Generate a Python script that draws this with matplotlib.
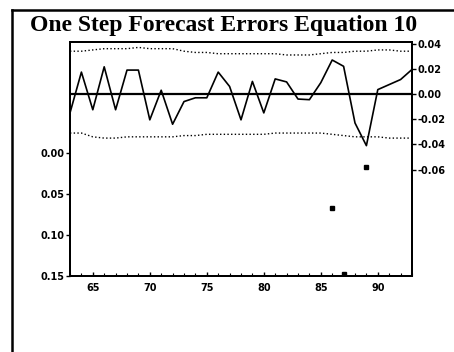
import matplotlib.pyplot as plt
from matplotlib.lines import Line2D
from matplotlib.ticker import MultipleLocator

# Anni e errori di previsione a un passo (asse destro)
years = list(range(63, 94))
residuals = [-0.015, 0.0174, -0.0125, 0.0216, -0.0125, 0.019, 0.019, -0.0205,
             0.003, -0.024, -0.006, -0.003, -0.003, 0.0174, 0.006, -0.0205,
             0.010, -0.015, 0.012, 0.0096, -0.004, -0.0045, 0.009, 0.027,
             0.022, -0.023, -0.041, 0.0035, 0.0075, 0.0115, 0.0195]

# Bande di due errori standard
band_upper = [0.034, 0.034, 0.035, 0.036, 0.036, 0.036, 0.037, 0.036, 0.036,
              0.036, 0.034, 0.033, 0.033, 0.032, 0.032, 0.032, 0.032, 0.032,
              0.032, 0.031, 0.031, 0.031, 0.032, 0.033, 0.033, 0.034, 0.034,
              0.035, 0.035, 0.034, 0.034]
band_lower = [-0.031, -0.031, -0.034, -0.035, -0.035, -0.034, -0.034, -0.034,
              -0.034, -0.034, -0.033, -0.033, -0.032, -0.032, -0.032, -0.032,
              -0.032, -0.032, -0.031, -0.031, -0.031, -0.031, -0.031, -0.032,
              -0.033, -0.034, -0.034, -0.034, -0.035, -0.035, -0.035]

# Probabilita' (asse sinistro, solo quelle sotto 0.15)
prob_years = [86, 87, 89]
prob_values = [0.067, 0.148, 0.017]

fig = plt.figure(figsize=(4.54, 3.52), dpi=100)

# Cornice esterna (lati sinistro e superiore)
x0 = 12 / 454
y0 = 1 - 10 / 352
fig.add_artist(Line2D([x0, x0], [0, y0], transform=fig.transFigure,
                      color='black', linewidth=1.8))
fig.add_artist(Line2D([x0, 1], [y0, y0], transform=fig.transFigure,
                      color='black', linewidth=1.8))

ax = fig.add_axes([70 / 454, 1 - 276 / 352, 342 / 454, 234 / 352])
ax2 = ax.twinx()

# Probabilita' sull'asse sinistro (invertito)
ax.plot(prob_years, prob_values, linestyle='none', marker='s', markersize=2.5,
        color='black')
ax.set_ylim(0.15, -0.135)
ax.set_yticks([0.00, 0.05, 0.10, 0.15])
ax.set_yticklabels(['0.00', '0.05', '0.10', '0.15'])
ax.set_xlim(63, 93)
ax.set_xticks([65, 70, 75, 80, 85, 90])
ax.xaxis.set_minor_locator(MultipleLocator(1))
ax.tick_params(axis='x', direction='in', length=3, width=1, labelsize=7, pad=5)
ax.tick_params(axis='x', which='minor', direction='in', length=2, width=0.8)
ax.tick_params(axis='y', direction='out', length=3, width=1, labelsize=7, pad=1)
for lbl in ax.get_xticklabels() + ax.get_yticklabels():
    lbl.set_fontweight('bold')

# Residui e bande sull'asse destro
ax2.plot(years, residuals, color='black', linewidth=1.2)
ax2.plot(years, band_upper, color='black', linestyle=':', linewidth=1)
ax2.plot(years, band_lower, color='black', linestyle=':', linewidth=1)
ax2.axhline(0, color='black', linewidth=1.6)
ax2.set_ylim(-0.1445, 0.0413)
ax2.set_yticks([0.04, 0.02, 0.00, -0.02, -0.04, -0.06])
ax2.set_yticklabels(['0.04', '0.02', '0.00', '-0.02', '-0.04', '-0.06'])
ax2.tick_params(axis='y', direction='out', length=3, width=1, labelsize=7, pad=1)
for lbl in ax2.get_yticklabels():
    lbl.set_fontweight('bold')

for a in (ax, ax2):
    for sp in a.spines.values():
        sp.set_linewidth(1.4)

fig.text(224 / 454, 1 - 26 / 352, 'One Step Forecast Errors Equation 10',
         ha='center', va='center', fontsize=17, fontweight='bold',
         family='Liberation Serif')

plt.savefig('out.png', dpi=100)
plt.close()
